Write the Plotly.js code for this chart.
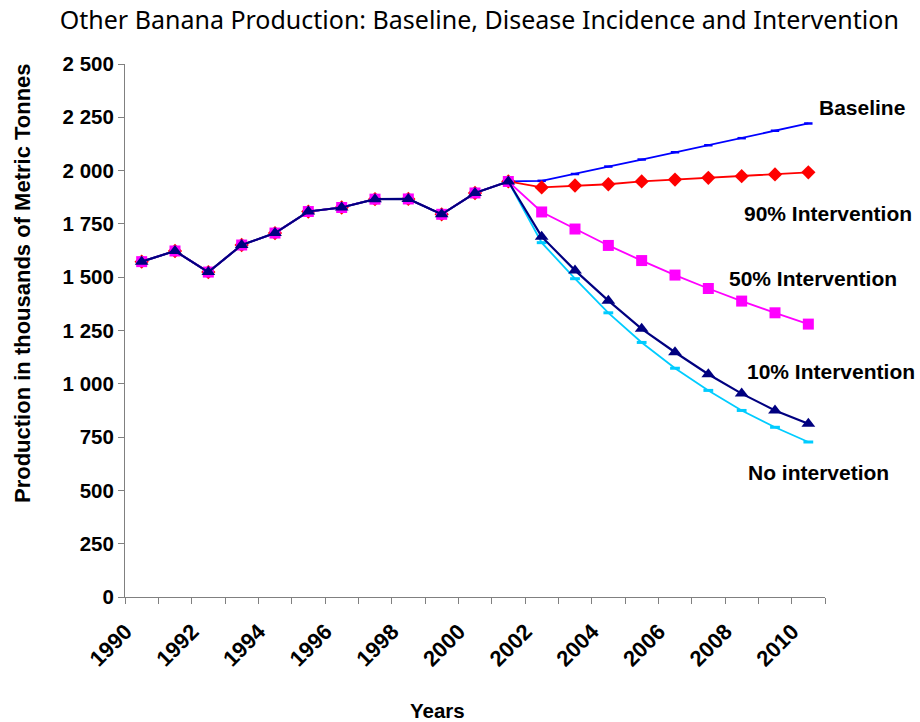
<!DOCTYPE html>
<html>
<head>
<meta charset="utf-8">
<script src="https://cdn.plot.ly/plotly-3.0.1.min.js"></script>
<style>html,body{margin:0;padding:0;background:#fff;}#chart{width:920px;height:722px;}</style>
</head>
<body>
<div id="chart"></div>
<script>
// ---- data ----
const years = [1990,1991,1992,1993,1994,1995,1996,1997,1998,1999,2000,2001,2002,2003,2004,2005,2006,2007,2008,2009,2010];
const history = [1573,1623,1524,1651,1707,1808,1827,1866,1867,1795,1895,1949]; // 1990-2001
const baseline = [1952,1984,2019,2052,2086,2119,2152,2187,2221];        // 2002-2010
const intervention90 = [1921,1930,1936,1949,1958,1966,1974,1982,1992];
const intervention50 = [1806,1726,1649,1578,1510,1447,1388,1333,1280];
const intervention10 = [1690,1532,1390,1258,1148,1045,954,875,813];
const noIntervention = [1662,1493,1333,1194,1073,969,875,796,727];
const seriesNames = ["Baseline","90% Intervention","50% Intervention","10% Intervention","No intervetion"];
const xTickVals = [1990,1992,1994,1996,1998,2000,2002,2004,2006,2008,2010];
const xTickText = ["1990","1992","1994","1996","1998","2000","2002","2004","2006","2008","2010"];
const yTickVals = [0,250,500,750,1000,1250,1500,1750,2000,2250,2500];
const yTickText = ["0","250","500","750","1 000","1 250","1 500","1 750","2 000","2 250","2 500"];

const full = arr => history.concat(arr);
const boundaries = years.map(y => y - 0.5).concat([years[years.length-1] + 0.5]);

const LW = 1.8;
const traces = [
  {name: seriesNames[0], x: years, y: full(baseline), mode: 'lines+markers',
   line: {color: '#0000FF', width: LW},
   marker: {symbol: 'line-ew', size: 6, color: '#0000FF', line: {color: '#0000FF', width: 2.5}}},
  {name: seriesNames[1], x: years, y: full(intervention90), mode: 'lines+markers',
   line: {color: '#FF0000', width: LW},
   marker: {symbol: 'diamond', size: 11, color: '#FF0000'}},
  {name: seriesNames[4], x: years, y: full(noIntervention), mode: 'lines+markers',
   line: {color: '#00CCFF', width: LW},
   marker: {symbol: 'line-ew', size: 7, color: '#00CCFF', line: {color: '#00CCFF', width: 3}}},
  {name: seriesNames[2], x: years, y: full(intervention50), mode: 'lines+markers',
   line: {color: '#FF00FF', width: LW},
   marker: {symbol: 'square', size: 11, color: '#FF00FF'}},
  {name: seriesNames[3], x: years, y: full(intervention10), mode: 'lines+markers',
   line: {color: '#000080', width: 2.2},
   marker: {symbol: 'triangle-up', size: 12, color: '#000080'}}
];

const tickFont = {family: 'Liberation Sans, Arial, sans-serif', size: 20.5, color: '#000', weight: 'bold'};
const xTickFont = {family: 'Liberation Sans, Arial, sans-serif', size: 22, color: '#000', weight: 'bold'};
const yTitleFont = {family: 'Liberation Sans, Arial, sans-serif', size: 22, color: '#000', weight: 'bold'};
const labelFont = {family: 'Liberation Sans, Arial, sans-serif', size: 21, color: '#000', weight: 'bold'};

const layout = {
  width: 920, height: 722,
  margin: {l: 125, r: 95, t: 64, b: 125},
  paper_bgcolor: '#fff', plot_bgcolor: '#fff',
  showlegend: false,
  title: {text: 'Other Banana Production: Baseline, Disease Incidence and Intervention',
          font: {family: 'Noto Sans, sans-serif', size: 25, color: '#000'},
          x: 0.521, xanchor: 'center', y: 0.972, yanchor: 'middle'},
  xaxis: {
    type: 'linear', range: [1989.5, 2010.5],
    tickmode: 'array', tickvals: xTickVals, ticktext: xTickText,
    tickangle: -45, ticks: '', ticklabelstandoff: 12, ticklabelshift: -16,
    showline: true, linecolor: '#808080', linewidth: 1,
    showgrid: false, zeroline: false,
    tickfont: xTickFont,
    minor: {tickmode: 'array', tickvals: boundaries, ticks: 'outside', ticklen: 6, tickcolor: '#808080', tickwidth: 1, showgrid: false}
  },
  yaxis: {
    range: [0, 2500],
    tickmode: 'array', tickvals: yTickVals, ticktext: yTickText,
    ticks: 'outside', ticklen: 6, tickcolor: '#808080', tickwidth: 1,
    showline: true, linecolor: '#808080', linewidth: 1,
    showgrid: false, zeroline: false,
    tickfont: tickFont
  },
  annotations: [
    {text: 'Years', xref: 'paper', yref: 'paper', x: (437-125)/700, y: (597-710)/533, showarrow: false, font: tickFont, xanchor: 'center', yanchor: 'middle'},
    {text: 'Production in thousands of Metric Tonnes', xref: 'paper', yref: 'paper', x: (22-125)/700, y: (597-283)/533, textangle: -90, showarrow: false, font: yTitleFont, xanchor: 'center', yanchor: 'middle'},
    {text: seriesNames[0], xref: 'paper', yref: 'paper', x: (862-125)/700, y: (597-107)/533, showarrow: false, font: labelFont, xanchor: 'center', yanchor: 'middle'},
    {text: seriesNames[1], xref: 'paper', yref: 'paper', x: (828-125)/700, y: (597-213)/533, showarrow: false, font: labelFont, xanchor: 'center', yanchor: 'middle'},
    {text: seriesNames[2], xref: 'paper', yref: 'paper', x: (813-125)/700, y: (597-278)/533, showarrow: false, font: labelFont, xanchor: 'center', yanchor: 'middle'},
    {text: seriesNames[3], xref: 'paper', yref: 'paper', x: (831-125)/700, y: (597-371)/533, showarrow: false, font: labelFont, xanchor: 'center', yanchor: 'middle'},
    {text: seriesNames[4], xref: 'paper', yref: 'paper', x: (818-125)/700, y: (597-472)/533, showarrow: false, font: labelFont, xanchor: 'center', yanchor: 'middle'}
  ]
};

Plotly.newPlot('chart', traces, layout, {displayModeBar: false, staticPlot: true});
</script>
</body>
</html>
